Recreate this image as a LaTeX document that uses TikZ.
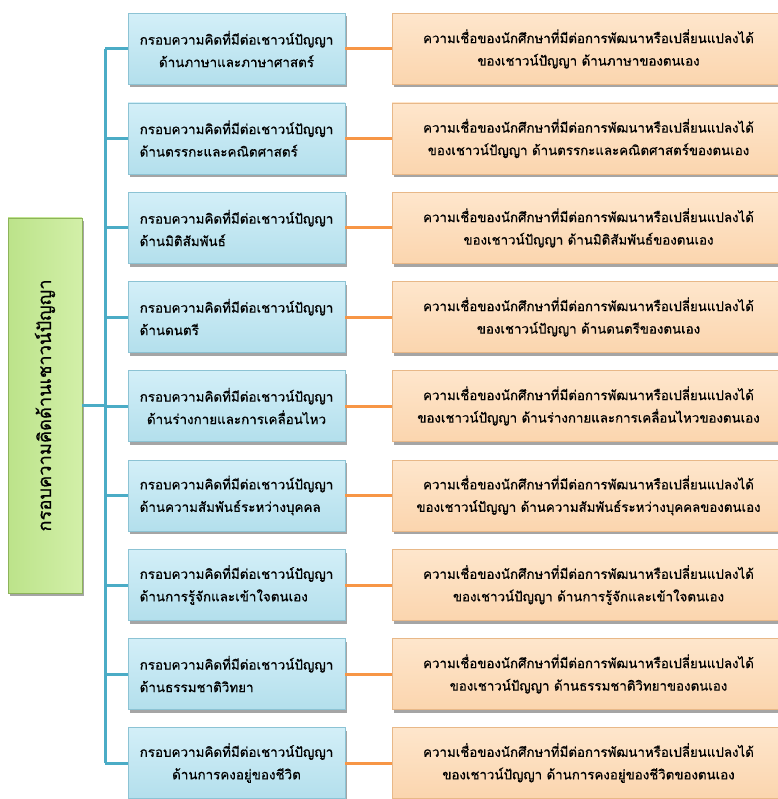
\documentclass[tikz,border=0pt]{standalone}
\usepackage{fontspec}
\newfontfamily\thai[Script=Thai,FakeBold=0.7]{Loma}
\usetikzlibrary{shadows}
\definecolor{bluetop}{HTML}{D3EFF8}
\definecolor{bluebot}{HTML}{B3DFEC}
\definecolor{blueedge}{HTML}{8CC3D4}
\definecolor{orgtop}{HTML}{FEE6CC}
\definecolor{orgbot}{HTML}{FBD5AE}
\definecolor{orgedge}{HTML}{E8B888}
\definecolor{grntop}{HTML}{D2EFA8}
\definecolor{grnbot}{HTML}{BCE38A}
\definecolor{grnedge}{HTML}{8DB35A}
\definecolor{bline}{HTML}{4BACC6}
\definecolor{oline}{HTML}{F79646}
\begin{document}
\begin{tikzpicture}[x=1pt,y=-1pt,
  shad/.style={drop shadow={shadow xshift=2pt,shadow yshift=-3pt,opacity=0.5,fill=black!70}},
  midbox/.style={shad,top color=bluetop,bottom color=bluebot,draw=blueedge,line width=0.6pt,
     minimum width=217pt,minimum height=71pt,inner sep=2pt,font=\thai\fontsize{13.4}{22.5}\selectfont},
  rightbox/.style={shad,top color=orgtop,bottom color=orgbot,draw=orgedge,line width=0.6pt,
     minimum width=393pt,minimum height=71pt,inner sep=2pt,align=center,font=\thai\fontsize{13.3}{22.5}\selectfont},
  grnbox/.style={shad,left color=grnbot,right color=grntop,draw=grnedge,line width=0.6pt,
     minimum width=74pt,minimum height=375pt,inner sep=2pt},
  bconn/.style={draw=bline,line width=3pt},
  oconn/.style={draw=oline,line width=3pt}]
\useasboundingbox (0,0) rectangle (777,799);

\node[grnbox] (g) at (45,405.5) {};
\node[rotate=90,font=\thai\fontsize{18.3}{22}\selectfont] (gt) at (g.center) {กรอบความคิดด้านเชาวน์ปัญญา};

\newcommand\mkrow[5]{%
  \node[midbox,align=#5] (m#1) at (236.5,#2) {กรอบความคิดที่มีต่อเชาวน์ปัญญา\\#3};
  \node[rightbox] (r#1) at (588.5,#2) {ความเชื่อของนักศึกษาที่มีต่อการพัฒนาหรือเปลี่ยนแปลงได้\\#4};
  \coordinate (v#1) at (105,#2);
}
\mkrow{1}{49}{ด้านภาษาและภาษาศาสตร์}{ของเชาวน์ปัญญา ด้านภาษาของตนเอง}{center}
\mkrow{2}{138.5}{ด้านตรรกะและคณิตศาสตร์}{ของเชาวน์ปัญญา ด้านตรรกะและคณิตศาสตร์ของตนเอง}{left}
\mkrow{3}{228}{ด้านมิติสัมพันธ์}{ของเชาวน์ปัญญา ด้านมิติสัมพันธ์ของตนเอง}{left}
\mkrow{4}{317}{ด้านดนตรี}{ของเชาวน์ปัญญา ด้านดนตรีของตนเอง}{left}
\mkrow{5}{406}{ด้านร่างกายและการเคลื่อนไหว}{ของเชาวน์ปัญญา ด้านร่างกายและการเคลื่อนไหวของตนเอง}{center}
\mkrow{6}{495.5}{ด้านความสัมพันธ์ระหว่างบุคคล}{ของเชาวน์ปัญญา ด้านความสัมพันธ์ระหว่างบุคคลของตนเอง}{left}
\mkrow{7}{585}{ด้านการรู้จักและเข้าใจตนเอง}{ของเชาวน์ปัญญา ด้านการรู้จักและเข้าใจตนเอง}{left}
\mkrow{8}{674}{ด้านธรรมชาติวิทยา}{ของเชาวน์ปัญญา ด้านธรรมชาติวิทยาของตนเอง}{left}
\mkrow{9}{763}{ด้านการคงอยู่ของชีวิต}{ของเชาวน์ปัญญา ด้านการคงอยู่ของชีวิตของตนเอง}{center}

\draw[bconn] (v1) -- (v9);
\draw[bconn] (g.east) -- (g.east -| v1);
\foreach \i in {1,...,9}{
  \draw[bconn] (v\i) -- (m\i.west);
  \draw[oconn] (m\i.east) -- (r\i.west);
}
\end{tikzpicture}
\end{document}
